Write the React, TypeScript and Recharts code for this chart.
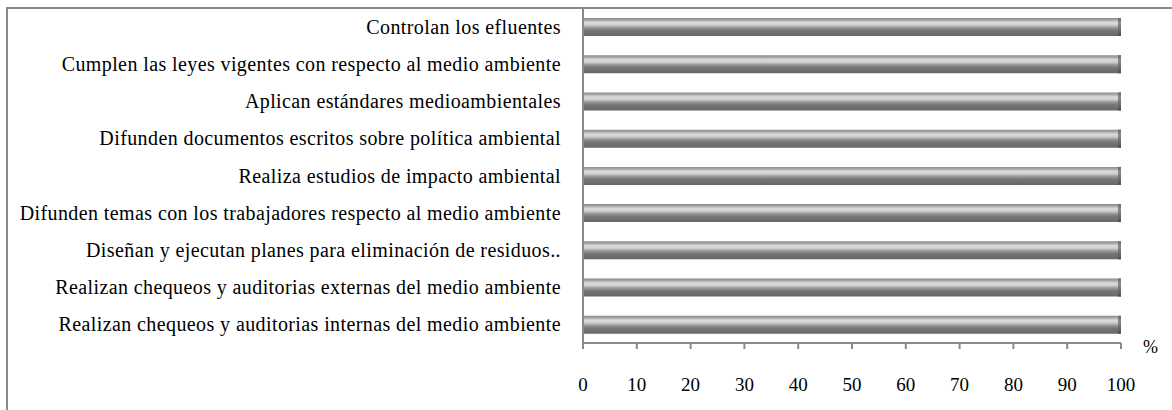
import { BarChart, Bar, XAxis, YAxis, Rectangle } from 'recharts'

const categories = [
  'Controlan los efluentes',
  'Cumplen las leyes vigentes con respecto al medio ambiente',
  'Aplican estándares medioambientales',
  'Difunden documentos escritos sobre política ambiental',
  'Realiza estudios de impacto ambiental',
  'Difunden temas con los trabajadores respecto al medio ambiente',
  'Diseñan y ejecutan planes para eliminación de residuos..',
  'Realizan chequeos y auditorias externas del medio ambiente',
  'Realizan chequeos y auditorias internas del medio ambiente',
]
const values = [100, 100, 100, 100, 100, 100, 100, 100, 100]
const xTicks = [0, 10, 20, 30, 40, 50, 60, 70, 80, 90, 100]

const data = categories.map((label, i) => ({ label, value: values[i] }))

const FONT = '"Liberation Serif", "Times New Roman", serif'
const AXIS = '#8a8a8a'

const CategoryTick = ({ x, y, payload }: any) => (
  <text
    x={x}
    y={y}
    dy={7}
    textAnchor="end"
    fontFamily={FONT}
    fontSize={20}
    letterSpacing={0.4}
    fill="#000"
  >
    {payload.value}
  </text>
)

const ValueTick = ({ x, y, payload }: any) => (
  <text x={x} y={y} dy={40} textAnchor="middle" fontFamily={FONT} fontSize={19} fill="#000">
    {payload.value}
  </text>
)

const CylinderBar = (props: any) => {
  const { x, y, width, height } = props
  return (
    <g>
      <Rectangle x={x} y={y} width={width} height={height} fill="url(#cyl)" />
      <Rectangle x={x + width - 3} y={y} width={3} height={height} fill="url(#cylEnd)" />
    </g>
  )
}

export default function App() {
  return (
    <div style={{ position: 'relative', width: 1172, height: 410, overflow: 'hidden', background: '#fff' }}>
      <style>{`body{margin:0;overflow:hidden}`}</style>
      <div
        style={{
          position: 'absolute',
          left: 6,
          top: 7,
          width: 1300,
          height: 500,
          borderTop: `2px solid ${AXIS}`,
          borderLeft: `2px solid ${AXIS}`,
        }}
      />
      <div style={{ position: 'absolute', left: 0, top: 0 }}>
        <BarChart
          width={1172}
          height={410}
          data={data}
          layout="vertical"
          margin={{ top: 8, right: 51, left: 0, bottom: 17 }}
          barSize={18}
        >
          <defs>
            <linearGradient id="cyl" x1="0" y1="0" x2="0" y2="1">
              <stop offset="0" stopColor="#8a8a8a" />
              <stop offset="0.12" stopColor="#a9a9a9" />
              <stop offset="0.25" stopColor="#dcdcdc" />
              <stop offset="0.4" stopColor="#cccccc" />
              <stop offset="0.52" stopColor="#9c9c9c" />
              <stop offset="0.68" stopColor="#777777" />
              <stop offset="1" stopColor="#666666" />
            </linearGradient>
            <linearGradient id="cylEnd" x1="0" y1="0" x2="0" y2="1">
              <stop offset="0" stopColor="#6a6a6a" />
              <stop offset="0.3" stopColor="#8a8a8a" />
              <stop offset="1" stopColor="#4e4e4e" />
            </linearGradient>
          </defs>
          <XAxis
            type="number"
            domain={[0, 100]}
            ticks={xTicks}
            interval={0}
            height={50}
            axisLine={{ stroke: AXIS, strokeWidth: 2 }}
            tickLine={{ stroke: AXIS, strokeWidth: 2 }}
            tickSize={6}
            tick={<ValueTick />}
          />
          <YAxis
            type="category"
            dataKey="label"
            width={583}
            axisLine={{ stroke: AXIS, strokeWidth: 2 }}
            tickLine={false}
            tickSize={0}
            tickMargin={22}
            interval={0}
            tick={<CategoryTick />}
          />
          <Bar dataKey="value" isAnimationActive={false} shape={<CylinderBar />} />
        </BarChart>
      </div>
      <div
        style={{
          position: 'absolute',
          left: 1143,
          top: 337,
          fontFamily: FONT,
          fontSize: 18,
          color: '#000',
        }}
      >
        %
      </div>
    </div>
  )
}
